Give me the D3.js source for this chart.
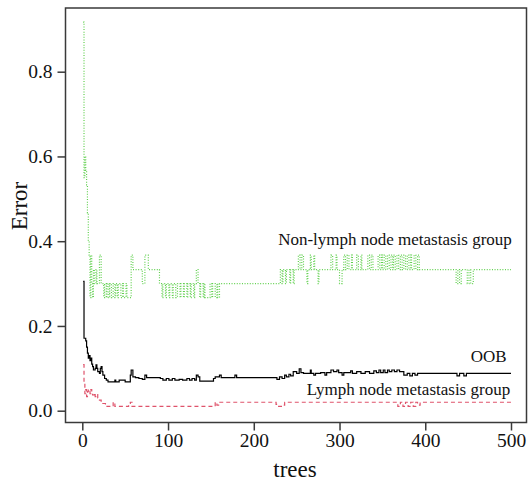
<!DOCTYPE html>
<html>
<head>
<meta charset="utf-8">
<script src="https://cdn.jsdelivr.net/npm/d3@7"></script>
<style>
  body { margin: 0; background: #fff; }
  text { font-family: "Liberation Serif", "Times New Roman", serif; fill: #111; }
</style>
</head>
<body>
<svg width="530" height="482"></svg>
<script>
// Error rate per number of trees, stored as change points [tree, error]
// (the curve stays at a value until the next point)
let oobSteps = [
  [1, 0.305], [2, 0.171], [4, 0.165], [5, 0.15], [6, 0.136], [7, 0.124], [8, 0.13],
  [9, 0.118], [10, 0.124], [11, 0.11], [12, 0.104], [13, 0.096], [15, 0.1], [16, 0.108],
  [17, 0.1], [18, 0.092], [20, 0.088], [21, 0.1], [22, 0.104], [23, 0.092], [24, 0.084],
  [26, 0.076], [28, 0.072], [30, 0.068], [38, 0.072], [39, 0.068], [43, 0.072], [50, 0.068],
  [56, 0.084], [57, 0.096], [59, 0.08], [62, 0.078], [66, 0.076], [70, 0.074], [73, 0.084],
  [75, 0.078], [91, 0.076], [94, 0.072], [98, 0.076], [101, 0.072], [105, 0.076], [108, 0.072],
  [113, 0.074], [117, 0.072], [122, 0.076], [125, 0.072], [128, 0.076], [131, 0.072],
  [133, 0.084], [135, 0.08], [137, 0.07], [153, 0.076], [155, 0.08], [160, 0.084], [162, 0.078],
  [178, 0.084], [180, 0.078], [227, 0.074], [230, 0.08], [233, 0.076], [236, 0.084], [238, 0.08],
  [241, 0.086], [243, 0.082], [246, 0.092], [250, 0.088], [253, 0.099], [255, 0.09], [258, 0.088],
  [266, 0.096], [267, 0.088], [270, 0.084], [272, 0.088], [278, 0.09], [283, 0.084], [285, 0.09],
  [290, 0.096], [293, 0.092], [297, 0.096], [299, 0.09], [303, 0.084], [305, 0.09], [313, 0.094],
  [315, 0.088], [320, 0.092], [325, 0.088], [330, 0.092], [335, 0.088], [340, 0.094], [343, 0.09],
  [346, 0.096], [348, 0.09], [351, 0.096], [353, 0.09], [356, 0.096], [358, 0.092], [361, 0.096],
  [364, 0.092], [367, 0.096], [370, 0.092], [375, 0.084], [379, 0.088], [382, 0.082], [385, 0.088],
  [388, 0.084], [391, 0.088], [437, 0.082], [440, 0.088], [445, 0.082], [448, 0.088]
];

let lymphSteps = [
  [1, 0.109], [2, 0.07], [3, 0.04], [4, 0.05], [5, 0.033], [6, 0.045], [7, 0.05], [9, 0.04],
  [10, 0.05], [11, 0.045], [12, 0.037], [14, 0.042], [15, 0.033], [17, 0.038], [18, 0.03],
  [20, 0.025], [22, 0.02], [24, 0.017], [27, 0.01], [36, 0.02], [38, 0.01], [54, 0.017],
  [56, 0.02], [58, 0.01], [155, 0.02], [157, 0.013], [159, 0.02], [226, 0.015], [229, 0.01],
  [233, 0.013], [236, 0.02], [368, 0.01], [371, 0.02], [374, 0.01], [377, 0.02], [380, 0.01],
  [383, 0.02], [386, 0.01], [389, 0.02], [391, 0.013], [394, 0.02]
];

let nonLymphSteps = [
  [1, 0.917], [2, 0.55], [3, 0.6], [4, 0.567], [5, 0.533], [6, 0.467], [7, 0.4], [8, 0.367],
  [9, 0.267], [10, 0.367], [11, 0.3], [12, 0.267], [13, 0.333], [14, 0.3], [16, 0.333], [17, 0.3],
  [20, 0.367], [22, 0.3], [25, 0.267], [26, 0.3], [28, 0.267], [29, 0.3], [31, 0.267], [32, 0.3],
  [34, 0.267], [36, 0.3], [38, 0.267], [39, 0.3], [41, 0.267], [42, 0.3], [45, 0.267], [47, 0.3],
  [48, 0.267], [51, 0.3], [52, 0.267], [57, 0.367], [59, 0.333], [70, 0.3], [73, 0.367], [77, 0.333], [90, 0.3],
  [93, 0.267], [94, 0.3], [97, 0.267], [98, 0.3], [101, 0.267], [102, 0.3], [105, 0.267],
  [106, 0.3], [109, 0.267], [111, 0.3], [114, 0.267], [115, 0.3], [118, 0.267], [119, 0.3],
  [122, 0.267], [123, 0.3], [126, 0.267], [127, 0.3], [130, 0.267], [131, 0.3], [133, 0.333],
  [135, 0.3], [137, 0.267], [138, 0.3], [141, 0.267], [142, 0.3], [143, 0.267], [149, 0.3],
  [151, 0.267], [152, 0.3], [155, 0.267], [157, 0.3], [158, 0.267], [160, 0.3], [231, 0.333],
  [233, 0.3], [234, 0.333], [237, 0.3], [238, 0.333], [242, 0.3], [243, 0.333], [246, 0.3],
  [247, 0.333], [252, 0.367], [254, 0.333], [256, 0.367], [258, 0.333], [262, 0.3], [263, 0.333],
  [266, 0.367], [267, 0.333], [270, 0.367], [271, 0.333], [275, 0.3], [276, 0.333], [290, 0.367],
  [292, 0.333], [296, 0.367], [297, 0.333], [300, 0.3], [303, 0.333], [305, 0.367], [307, 0.333],
  [309, 0.367], [311, 0.333], [314, 0.367], [315, 0.333], [320, 0.367], [322, 0.333], [325, 0.367],
  [326, 0.333], [333, 0.367], [335, 0.333], [337, 0.367], [339, 0.333], [345, 0.367], [347, 0.333],
  [349, 0.367], [350, 0.333], [352, 0.367], [354, 0.333], [356, 0.367], [358, 0.333], [360, 0.367],
  [362, 0.333], [363, 0.367], [365, 0.333], [367, 0.367], [369, 0.333], [371, 0.367], [373, 0.333],
  [375, 0.367], [377, 0.333], [379, 0.367], [381, 0.333], [383, 0.367], [384, 0.333], [387, 0.367],
  [389, 0.333], [391, 0.367], [393, 0.333], [436, 0.3], [438, 0.333], [440, 0.3], [442, 0.333],
  [449, 0.3], [451, 0.333], [453, 0.3], [456, 0.333]
];

let xTicks = [0, 100, 200, 300, 400, 500];
let yTicks = [0.0, 0.2, 0.4, 0.6, 0.8];

let nTrees = 500;

let svg = d3.select("svg");

let x = d3.scaleLinear().domain([0, 500]).range([82.3, 511]);
let y = d3.scaleLinear().domain([0, 0.8]).range([410.7, 71.7]);

// plot box
svg.append("rect")
  .attr("x", 65.5)
  .attr("y", 8)
  .attr("width", 461)
  .attr("height", 414.5)
  .attr("fill", "none")
  .attr("stroke", "#3a3a3a")
  .attr("stroke-width", 1.5);

// axes
let xAxis = svg.append("g")
  .attr("transform", "translate(0,422.5)")
  .call(d3.axisBottom(x).tickValues(xTicks).tickSize(8).tickSizeOuter(0).tickPadding(3));

let yAxis = svg.append("g")
  .attr("transform", "translate(65.5,0)")
  .call(d3.axisLeft(y).tickValues(yTicks).tickFormat(d3.format(".1f")).tickSize(8).tickPadding(5));

[xAxis, yAxis].forEach(function (g) {
  g.select(".domain").remove();
  g.selectAll(".tick line").attr("stroke", "#3a3a3a").attr("stroke-width", 1.5);
  g.selectAll(".tick text")
    .attr("fill", "#111")
    .style("font-family", '"Liberation Serif", serif')
    .style("font-size", "19.5px");
});

// axis titles
svg.append("text")
  .attr("x", 295)
  .attr("y", 477)
  .attr("text-anchor", "middle")
  .style("font-size", "23px")
  .text("trees");

svg.append("text")
  .attr("transform", "translate(27,206) rotate(-90)")
  .attr("text-anchor", "middle")
  .style("font-size", "23px")
  .text("Error");

// error curves
let line = d3.line()
  .x(function (d) { return x(d[0]); })
  .y(function (d) { return y(d[1]); })
  .curve(d3.curveStepAfter);

function toEnd(steps) {
  let last = steps[steps.length - 1];
  return steps.concat([[nTrees, last[1]]]);
}

svg.append("path")
  .datum(toEnd(nonLymphSteps))
  .attr("d", line)
  .attr("fill", "none")
  .attr("stroke", "#61D04F")
  .attr("stroke-width", 1.2)
  .attr("stroke-dasharray", "1,1.6");

svg.append("path")
  .datum(toEnd(lymphSteps))
  .attr("d", line)
  .attr("fill", "none")
  .attr("stroke", "#DF536B")
  .attr("stroke-width", 1.2)
  .attr("stroke-dasharray", "4,3");

svg.append("path")
  .datum(toEnd(oobSteps))
  .attr("d", line)
  .attr("fill", "none")
  .attr("stroke", "#000")
  .attr("stroke-width", 1.2);

// curve labels
let labels = [
  { text: "Non-lymph node metastasis group", t: 501, v: 0.391 },
  { text: "OOB", t: 495, v: 0.116 },
  { text: "Lymph node metastasis group", t: 499, v: 0.037 }
];

svg.selectAll(".lab")
  .data(labels)
  .enter()
  .append("text")
  .attr("class", "lab")
  .attr("x", function (d) { return x(d.t); })
  .attr("y", function (d) { return y(d.v); })
  .attr("text-anchor", "end")
  .style("font-size", "17px")
  .text(function (d) { return d.text; });
</script>
</body>
</html>
